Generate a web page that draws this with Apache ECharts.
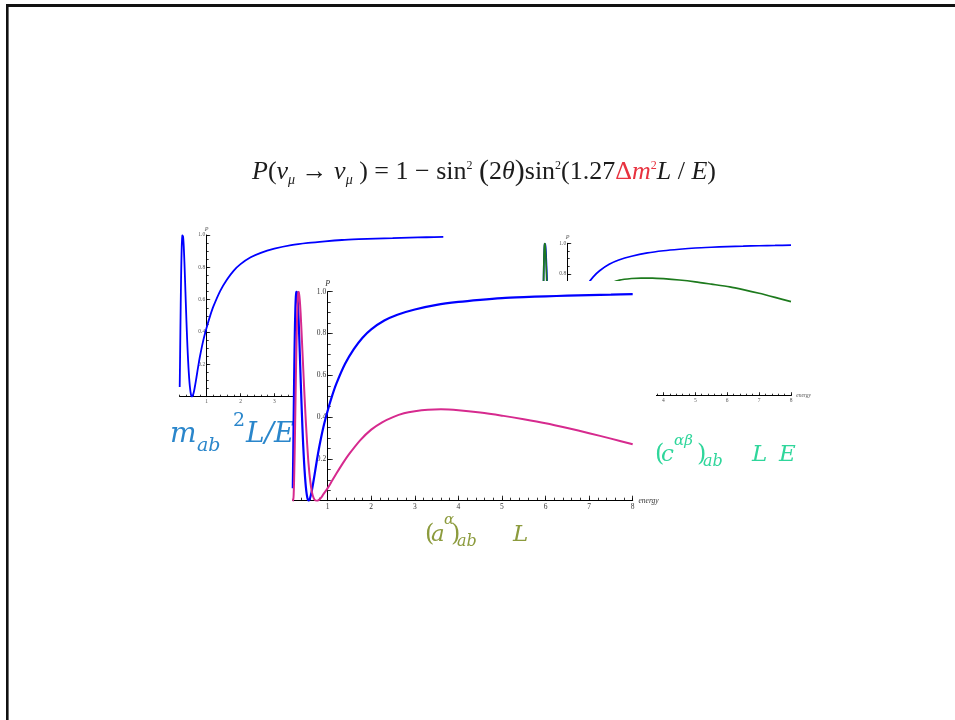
<!DOCTYPE html>
<html>
<head>
<meta charset="utf-8">
<script src="https://cdn.jsdelivr.net/npm/echarts@6/dist/echarts.min.js"></script>
<style>
  html, body { margin: 0; padding: 0; background: #fff; }
  #chart { width: 955px; height: 720px; }
</style>
</head>
<body>
<div id="chart"></div>
<script>
// Survival probability P versus energy for three curves.
const energyBlue = [0.20, 0.21, 0.22, 0.23, 0.24, 0.25, 0.26, 0.27, 0.28, 0.29, 0.30, 0.31, 0.32, 0.34, 0.36, 0.38, 0.40, 0.42, 0.44, 0.46, 0.48, 0.50, 0.52, 0.54, 0.56, 0.58, 0.60, 0.63, 0.66, 0.70, 0.75, 0.80, 0.90, 1.0, 1.1, 1.2, 1.4, 1.6, 1.8, 2.0, 2.3, 2.6, 3.0, 3.5, 4.0, 4.5, 5.0, 5.5, 6.0, 6.5, 7.0, 7.5, 8.0];
const probBlue   = [0.06, 0.22, 0.40, 0.57, 0.72, 0.84, 0.925, 0.975, 0.997, 1.0, 0.99, 0.965, 0.93, 0.83, 0.71, 0.585, 0.465, 0.355, 0.26, 0.18, 0.115, 0.065, 0.03, 0.008, 0.0, 0.004, 0.015, 0.04, 0.075, 0.125, 0.19, 0.25, 0.35, 0.43, 0.50, 0.56, 0.655, 0.725, 0.78, 0.82, 0.862, 0.89, 0.915, 0.937, 0.951, 0.961, 0.969, 0.974, 0.978, 0.981, 0.984, 0.986, 0.988];

const energyPink = [0.20, 0.21, 0.22, 0.23, 0.24, 0.25, 0.26, 0.27, 0.28, 0.29, 0.30, 0.31, 0.32, 0.33, 0.34, 0.36, 0.38, 0.40, 0.42, 0.44, 0.46, 0.48, 0.50, 0.53, 0.56, 0.60, 0.64, 0.68, 0.72, 0.76, 0.80, 0.85, 0.90, 1.0, 1.1, 1.2, 1.35, 1.5, 1.75, 2.0, 2.25, 2.5, 2.75, 3.0, 3.3, 3.6, 4.0, 4.5, 5.0, 5.5, 6.0, 6.5, 7.0, 7.5, 8.0];
const probPink   = [0.01, 0.0, 0.03, 0.10, 0.20, 0.32, 0.45, 0.58, 0.70, 0.80, 0.89, 0.95, 0.985, 1.0, 0.995, 0.96, 0.895, 0.81, 0.72, 0.63, 0.54, 0.455, 0.375, 0.27, 0.18, 0.095, 0.04, 0.012, 0.001, 0.0, 0.004, 0.015, 0.03, 0.06, 0.095, 0.13, 0.18, 0.225, 0.29, 0.34, 0.375, 0.40, 0.418, 0.428, 0.435, 0.437, 0.433, 0.422, 0.407, 0.39, 0.371, 0.348, 0.323, 0.297, 0.27];

const energyGreen = [0.20, 0.21, 0.22, 0.23, 0.24, 0.25, 0.26, 0.27, 0.28, 0.29, 0.30, 0.32, 0.34, 0.36, 0.38, 0.40, 0.43, 0.46, 0.50, 0.54, 0.58, 0.62, 0.68, 0.75, 0.85, 1.0, 1.25, 1.5, 1.75, 2.0, 2.3, 2.62, 3.0, 3.3, 3.66, 4.0, 4.5, 5.0, 5.5, 6.08, 6.5, 7.0, 7.5, 8.0];
const probGreen   = [0.04, 0.20, 0.38, 0.56, 0.72, 0.85, 0.94, 0.985, 1.0, 0.99, 0.965, 0.88, 0.77, 0.65, 0.53, 0.42, 0.28, 0.17, 0.07, 0.015, 0.0, 0.012, 0.05, 0.12, 0.22, 0.35, 0.50, 0.60, 0.665, 0.71, 0.735, 0.758, 0.769, 0.772, 0.772, 0.768, 0.759, 0.747, 0.732, 0.714, 0.696, 0.672, 0.645, 0.617];

const energyTicks = [1, 2, 3, 4, 5, 6, 7, 8];
const probTicks = [0.2, 0.4, 0.6, 0.8, 1.0];
const energyMinorTicks = Array.from({ length: 40 }, (_, i) => +(0.2 * (i + 1)).toFixed(1));
const probMinorTicks = Array.from({ length: 21 }, (_, i) => +(0.05 * i).toFixed(2));

const pair = (xs, ys) => xs.map((x, i) => [x, ys[i]]);

// Three plot panels: two partly hidden ones behind, one in front.
const panels = [
  { left: 179.7, top: 235, width: 263.6, height: 161.7, yShift: 27, fs: 5.5, lc: '#555', z: 0, sz: 2,
    minor: 2, major: 3.5, lines: [[energyBlue, probBlue, '#0000ff', 1.8]] },
  { left: 542.2, top: 243.3, width: 248.8, height: 152.4, yShift: 25.5, fs: 5.5, lc: '#555', z: 0, sz: 2,
    minor: 2, major: 3.5, lines: [[energyBlue, probBlue, '#0000ff', 1.7], [energyGreen, probGreen, '#1d7a1d', 1.7]] },
  { left: 292.8, top: 291.7, width: 339.9, height: 209, yShift: 34.9, fs: 7.5, lc: '#333', z: 10, sz: 10,
    minor: 3, major: 5, lines: [[energyBlue, probBlue, '#0000ff', 2.2], [energyPink, probPink, '#d62a8e', 2.0]] }
];

const grid = [], xAxis = [], yAxis = [], series = [];
const serif = 'Liberation Serif';
panels.forEach((p, gi) => {
  grid.push({ left: p.left, top: p.top, width: p.width, height: p.height, containLabel: false, show: false });
  xAxis.push({
    type: 'value', gridIndex: gi, position: 'bottom', offset: 0, min: 0.2, max: 8, z: p.z,
    axisLine: { show: true, onZero: false, lineStyle: { color: '#000', width: 1 } },
    splitLine: { show: false },
    axisTick: { show: true, inside: true, length: p.minor, customValues: energyMinorTicks, lineStyle: { color: '#000', width: 0.8 } },
    axisLabel: { show: false }
  });
  xAxis.push({
    type: 'value', gridIndex: gi, position: 'bottom', offset: 0, min: 0.2, max: 8, z: p.z,
    axisLine: { show: false, onZero: false },
    splitLine: { show: false },
    axisTick: { show: true, inside: true, length: p.major, customValues: energyTicks, lineStyle: { color: '#000', width: 0.8 } },
    axisLabel: { show: true, customValues: energyTicks, fontSize: p.fs, fontFamily: serif, color: p.lc, margin: 2 },
    name: 'energy', nameLocation: 'end', nameGap: 3,
    nameTextStyle: { fontStyle: 'italic', fontSize: p.fs, fontFamily: serif, color: p.lc }
  });
  yAxis.push({
    type: 'value', gridIndex: gi, min: 0, max: 1, z: p.z, position: 'left', offset: -p.yShift,
    axisLine: { show: true, onZero: false, lineStyle: { color: '#000', width: 1 } },
    splitLine: { show: false },
    axisTick: { show: true, inside: true, length: p.minor, customValues: probMinorTicks, lineStyle: { color: '#000', width: 0.8 } },
    axisLabel: { show: false }
  });
  yAxis.push({
    type: 'value', gridIndex: gi, min: 0, max: 1, z: p.z, position: 'left', offset: -p.yShift,
    axisLine: { show: false, onZero: false },
    splitLine: { show: false },
    axisTick: { show: true, inside: true, length: p.major, customValues: probTicks, lineStyle: { color: '#000', width: 0.8 } },
    axisLabel: { show: true, customValues: probTicks, fontSize: p.fs, fontFamily: serif, color: p.lc, margin: 1.5,
      formatter: v => v.toFixed(1) },
    name: 'P', nameLocation: 'end', nameGap: 3,
    nameTextStyle: { fontStyle: 'italic', fontSize: p.fs + 0.5, fontFamily: serif, color: p.lc }
  });
  p.lines.forEach(([xs, ys, color, w]) => {
    series.push({
      type: 'line', xAxisIndex: gi * 2, yAxisIndex: gi * 2, z: p.sz,
      data: pair(xs, ys), showSymbol: false, smooth: 0.25,
      lineStyle: { color, width: w }, silent: true
    });
  });
});

// Text helper: places a glyph run on a given baseline.
function run(text, x, base, size, color, italic, family, z) {
  return {
    type: 'text', z: z || 6, silent: true,
    style: {
      text, x, y: base - 0.3 * size, fill: color,
      fontSize: size, fontFamily: family || 'DejaVu Serif', fontStyle: italic ? 'italic' : 'normal',
      align: 'left', textAlign: 'left', verticalAlign: 'middle', textVerticalAlign: 'middle'
    }
  };
}

const mBlue = '#2a86cb', olive = '#8c9b3d', teal = '#2fd69b';
const fml = '#1c1c1c', red = '#e8323f';

const formula = {
  type: 'text', z: 6, silent: true,
  style: {
    x: 484, y: 172, align: 'center', textAlign: 'center', verticalAlign: 'middle', textVerticalAlign: 'middle',
    text: '{i|P}{n|(}{i|ν}{sub|μ}{n| → }{i|ν}{sub|μ}{n| ) = 1 − sin}{sup|2}{n| }{b|(}{n|2}{i|θ}{b|)}{n|sin}{sup|2}{n|(1.27}{r|Δ}{ri|m}{rsup|2}{i|L}{n| / }{i|E}{n|)}',
    rich: {
      n:   { fontFamily: serif, fontSize: 26, lineHeight: 40, verticalAlign: 'middle', fill: fml },
      i:   { fontFamily: serif, fontSize: 26, fontStyle: 'italic', lineHeight: 40, verticalAlign: 'middle', fill: fml },
      b:   { fontFamily: serif, fontSize: 30, lineHeight: 40, verticalAlign: 'middle', fill: fml },
      sub: { fontFamily: serif, fontSize: 14, fontStyle: 'italic', verticalAlign: 'bottom', padding: [0, 0, 5, 0], fill: fml },
      sup: { fontFamily: serif, fontSize: 12, verticalAlign: 'top', padding: [8, 0, 0, 0], fill: fml },
      r:   { fontFamily: serif, fontSize: 26, lineHeight: 40, verticalAlign: 'middle', fill: red },
      ri:  { fontFamily: serif, fontSize: 26, fontStyle: 'italic', lineHeight: 40, verticalAlign: 'middle', fill: red },
      rsup:{ fontFamily: serif, fontSize: 12, verticalAlign: 'top', padding: [8, 0, 0, 0], fill: red }
    }
  }
};

const graphic = [
  // slide frame
  { type: 'rect', z: 20, silent: true, shape: { x: 6, y: 4, width: 949, height: 3 }, style: { fill: '#111' } },
  { type: 'rect', z: 20, silent: true, shape: { x: 6, y: 4, width: 2.6, height: 716 }, style: { fill: '#111' } },
  // opaque backdrop of the front panel
  { type: 'rect', z: 5, silent: true, shape: { x: 293, y: 281, width: 363, height: 231 }, style: { fill: '#fff' } },
  formula,
  // m_ab^2 L/E
  run('m', 170, 443, 28, mBlue, true),
  run('ab', 197, 452, 19, mBlue, true),
  run('2', 233, 427, 19, mBlue, false),
  run('L/E', 246, 443, 28, mBlue, true),
  // (a^α)_ab L
  run('(', 425, 542, 24, olive, false),
  run('a', 431, 542, 23, olive, true),
  run('α', 444, 525, 15, olive, true),
  run(')', 451, 542, 24, olive, false),
  run('ab', 457, 547, 16, olive, true),
  run('L', 513, 542, 23, olive, true),
  // (c^αβ)_ab L E
  run('(', 655, 462, 24, teal, false),
  run('c', 661, 462, 23, teal, true),
  run('αβ', 674, 446, 15, teal, true),
  run(')', 697, 462, 24, teal, false),
  run('ab', 703, 467, 16, teal, true),
  run('L', 752, 462, 23, teal, true),
  run('E', 779, 462, 23, teal, true)
];

const chart = echarts.init(document.getElementById('chart'), null, { renderer: 'canvas' });
chart.setOption({
  backgroundColor: '#ffffff',
  animation: false,
  grid, xAxis, yAxis, series,
  graphic: { elements: graphic }
});
</script>
</body>
</html>
